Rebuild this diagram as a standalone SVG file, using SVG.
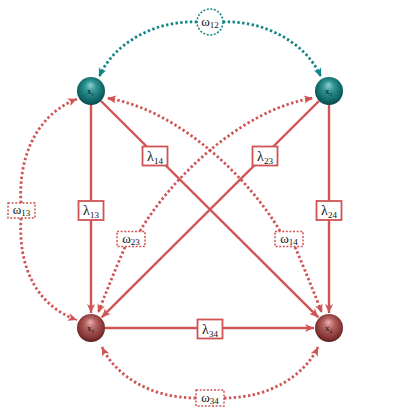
<svg xmlns="http://www.w3.org/2000/svg" width="420" height="420" viewBox="0 0 420 420">
<style>
.sol{fill:none;stroke:#d05454;stroke-width:2.4}
.dot{fill:none;stroke:#d05454;stroke-width:2.8;stroke-dasharray:2.4 2.4}
.dott{fill:none;stroke:#108585;stroke-width:2.8;stroke-dasharray:2.4 2.4}
.lbox{fill:#fff;stroke:#d05454;stroke-width:1.8}
.wbox{fill:#fff;stroke:#d05454;stroke-width:1.5;stroke-dasharray:2 1.6}
.wcirc{fill:#fff;stroke:#108585;stroke-width:1.5;stroke-dasharray:2 1.6}
.lt{font-family:"Liberation Serif","DejaVu Serif",serif;font-size:14px;fill:#111;text-anchor:middle}
.sub{font-size:9px}
.nt{font-family:"Liberation Serif","DejaVu Serif",serif;font-size:9px;fill:#101010;text-anchor:middle}
.nsub{font-size:5px}
</style>
<defs>
<radialGradient id="gt" cx="50%" cy="45%" r="58%" fx="48%" fy="28%">
<stop offset="0" stop-color="#8fd0d0"/>
<stop offset="0.35" stop-color="#2f9494"/>
<stop offset="0.8" stop-color="#0e6262"/>
<stop offset="1" stop-color="#064242"/>
</radialGradient>
<radialGradient id="gr" cx="50%" cy="45%" r="58%" fx="48%" fy="28%">
<stop offset="0" stop-color="#e8b0b0"/>
<stop offset="0.35" stop-color="#b46262"/>
<stop offset="0.8" stop-color="#823232"/>
<stop offset="1" stop-color="#521818"/>
</radialGradient>
<marker id="ar" markerUnits="userSpaceOnUse" markerWidth="12" markerHeight="12" viewBox="-10 -6 12 12" refX="0" refY="0" orient="auto">
<path d="M0,0 L-9,-4 L-6.5,0 L-9,4 z" fill="#d05454" stroke="none"/>
</marker>
<marker id="at" markerUnits="userSpaceOnUse" markerWidth="12" markerHeight="12" viewBox="-10 -6 12 12" refX="0" refY="0" orient="auto">
<path d="M0,0 L-9,-4 L-6.5,0 L-9,4 z" fill="#108585" stroke="none"/>
</marker>
</defs>
<g id="connectors">
<path class="sol" d="M91,105 L91,313" marker-end="url(#ar)"/>
<path class="sol" d="M329,105 L329,313" marker-end="url(#ar)"/>
<path class="sol" d="M101,101 L318.4,317.4" marker-end="url(#ar)"/>
<path class="sol" d="M319,101 L101.6,317.4" marker-end="url(#ar)"/>
<path class="sol" d="M105,328 L314,328" marker-end="url(#ar)"/>
<path class="dott" d="M197,22 C160,20 115,40 99,77" marker-end="url(#at)"/>
<path class="dott" d="M223,22 C260,20 305,40 321,77" marker-end="url(#at)"/>
<path class="dot" d="M21,203 C18,160 35,115 77,99" marker-end="url(#ar)"/>
<path class="dot" d="M21,218 C18,265 35,305 77,320" marker-end="url(#ar)"/>
<path class="dot" d="M140,231 C170,180 240,110 313,98" marker-end="url(#ar)"/>
<path class="dot" d="M125,247 C115,270 105,295 98,313" marker-end="url(#ar)"/>
<path class="dot" d="M280,231 C250,180 180,110 107,98" marker-end="url(#ar)"/>
<path class="dot" d="M295,247 C305,270 315,295 322,313" marker-end="url(#ar)"/>
<path class="dot" d="M196,398 C150,398 115,375 102,347" marker-end="url(#ar)"/>
<path class="dot" d="M224,398 C270,398 305,375 318,347" marker-end="url(#ar)"/>
</g>
<g id="lambda13"><rect class="lbox" x="78.5" y="201" width="25" height="19"/><text class="lt" x="91" y="215">λ<tspan class="sub" dy="3">13</tspan></text></g>
<g id="lambda24"><rect class="lbox" x="316.5" y="201" width="25" height="19"/><text class="lt" x="329" y="215">λ<tspan class="sub" dy="3">24</tspan></text></g>
<g id="lambda14"><rect class="lbox" x="142.5" y="146.5" width="25" height="19"/><text class="lt" x="155" y="160.5">λ<tspan class="sub" dy="3">14</tspan></text></g>
<g id="lambda23"><rect class="lbox" x="252.5" y="146.5" width="25" height="19"/><text class="lt" x="265" y="160.5">λ<tspan class="sub" dy="3">23</tspan></text></g>
<g id="lambda34"><rect class="lbox" x="197.5" y="319.5" width="25" height="19"/><text class="lt" x="210" y="333.5">λ<tspan class="sub" dy="3">34</tspan></text></g>
<g id="omega13"><rect class="wbox" x="8" y="203" width="27" height="15"/><text class="lt" x="21.5" y="214" style="font-size:13px">ω<tspan class="sub" dy="2">13</tspan></text></g>
<g id="omega23"><rect class="wbox" x="117" y="231.5" width="28" height="15"/><text class="lt" x="131" y="242.5" style="font-size:13px">ω<tspan class="sub" dy="2">23</tspan></text></g>
<g id="omega14"><rect class="wbox" x="275" y="231.5" width="28" height="15"/><text class="lt" x="289" y="242.5" style="font-size:13px">ω<tspan class="sub" dy="2">14</tspan></text></g>
<g id="omega34"><rect class="wbox" x="196" y="390" width="28" height="16"/><text class="lt" x="210" y="401.5" style="font-size:13px">ω<tspan class="sub" dy="2">34</tspan></text></g>
<g id="omega12"><circle class="wcirc" cx="210" cy="22" r="13"/><text class="lt" x="210" y="25.5" style="font-size:13px">ω<tspan class="sub" dy="2">12</tspan></text></g>
<g id="x1"><circle cx="91" cy="91" r="14" fill="url(#gt)"/><text class="nt" x="90.5" y="94">x<tspan class="nsub" dy="1.5">1</tspan></text></g>
<g id="x2"><circle cx="329" cy="91" r="14" fill="url(#gt)"/><text class="nt" x="328.5" y="94">x<tspan class="nsub" dy="1.5">2</tspan></text></g>
<g id="x3"><circle cx="91" cy="328" r="14" fill="url(#gr)"/><text class="nt" x="90.5" y="331">x<tspan class="nsub" dy="1.5">3</tspan></text></g>
<g id="x4"><circle cx="329" cy="328" r="14" fill="url(#gr)"/><text class="nt" x="328.5" y="331">x<tspan class="nsub" dy="1.5">4</tspan></text></g>
</svg>
